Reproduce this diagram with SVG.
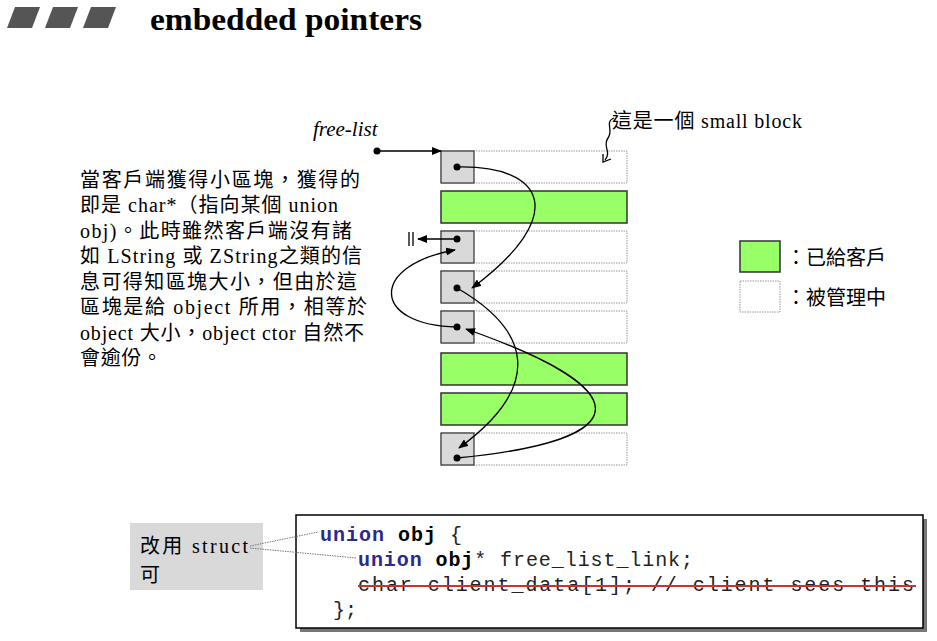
<svg xmlns="http://www.w3.org/2000/svg" width="937" height="641" viewBox="0 0 937 641">
<style>
.t{font-family:"Liberation Serif","Noto Sans CJK TC",serif;font-size:20px;fill:#000}
.m{font-family:"Liberation Mono",monospace;font-size:20px;fill:#222}
.kw{fill:#2a2a8c;font-weight:bold}
.b{font-weight:bold;fill:#000}
.g{fill:#99ff66;stroke:#333;stroke-width:1.5}
.w{fill:#fff;stroke:#999;stroke-width:1;stroke-dasharray:1.5 1}
.h{fill:#d9d9d9;stroke:#333;stroke-width:1.2}
.ln{fill:none;stroke:#000;stroke-width:1.3}
</style>
<defs>
<marker id="ah" markerWidth="10" markerHeight="8" refX="9" refY="4" orient="auto" markerUnits="userSpaceOnUse"><path d="M0,0 L10,4 L0,8 Z" fill="#000"/></marker>
</defs>
<rect width="937" height="641" fill="#fff"/>
<g id="title">
<polygon points="15,7 40,7 32,28 7,28" fill="#555"/>
<polygon points="53,7 78,7 70,28 45,28" fill="#555"/>
<polygon points="91,7 116,7 108,28 83,28" fill="#555"/>
<text x="150" y="30" font-family="Liberation Serif,serif" font-size="31" font-weight="bold" textLength="272" lengthAdjust="spacingAndGlyphs">embedded pointers</text>
</g>
<g id="desc">
<text class="t" x="80" y="187" textLength="280">當客戶端獲得小區塊，獲得的</text>
<text class="t" x="80" y="212" textLength="258">即是 char*（指向某個 union</text>
<text class="t" x="80" y="238" textLength="272">obj)。此時雖然客戶端沒有諸</text>
<text class="t" x="80" y="263" textLength="282">如 LString 或 ZString之類的信</text>
<text class="t" x="80" y="289" textLength="277">息可得知區塊大小，但由於這</text>
<text class="t" x="80" y="314" textLength="287">區塊是給 object 所用，相等於</text>
<text class="t" x="80" y="340" textLength="284">object 大小，object ctor 自然不</text>
<text class="t" x="80" y="365" textLength="82">會逾份。</text>
</g>
<g id="blocks">
<rect class="w" x="441" y="151" width="186" height="32"/>
<rect class="g" x="441" y="191" width="186" height="32"/>
<rect class="w" x="441" y="231" width="186" height="32"/>
<rect class="w" x="441" y="271" width="186" height="32"/>
<rect class="w" x="441" y="311" width="186" height="32"/>
<rect class="g" x="441" y="353" width="186" height="32"/>
<rect class="g" x="441" y="393" width="186" height="32"/>
<rect class="w" x="441" y="433" width="186" height="32"/>
<rect class="h" x="441" y="151" width="33" height="32"/>
<rect class="h" x="441" y="231" width="33" height="32"/>
<rect class="h" x="441" y="271" width="33" height="32"/>
<rect class="h" x="441" y="311" width="33" height="32"/>
<rect class="h" x="441" y="433" width="33" height="32"/>
<circle cx="457" cy="167" r="3.5"/>
<circle cx="457" cy="239" r="3.5"/>
<circle cx="457" cy="288" r="3.5"/>
<circle cx="457" cy="327" r="3.5"/>
<circle cx="457" cy="458" r="3.5"/>
</g>
<g id="freelist">
<text x="313" y="136" font-family="Liberation Serif,serif" font-size="21" font-style="italic">free-list</text>
<circle cx="377" cy="151" r="3.5"/>
</g>
<g id="connectors">
<path class="ln" d="M377,151 L441,151" marker-end="url(#ah)"/>
<path class="ln" d="M457,167 C545,165 570,215 472,288" marker-end="url(#ah)"/>
<path class="ln" d="M457,288 C530,330 545,385 459,448" marker-end="url(#ah)"/>
<path class="ln" d="M457,458 C640,440 640,390 466,329" marker-end="url(#ah)"/>
<path class="ln" d="M457,327 C370,325 370,265 455,250" marker-end="url(#ah)"/>
<path class="ln" d="M457,239 L418,239" marker-end="url(#ah)"/>
<path class="ln" d="M409,232 V246 M413,232 V246"/>
<path class="ln" d="M614,118 C604,122 614,130 608,138 C602,146 612,152 605,160 M603,154 L603,162 L611,159" stroke-width="1"/>
</g>
<g id="smallblock">
<text class="t" x="612" y="128" textLength="190">這是一個 small block</text>
</g>
<g id="legend">
<rect class="g" x="740" y="241" width="40" height="31"/>
<rect class="w" x="740" y="281" width="40" height="31"/>
<text class="t" x="786" y="265" font-size="21">：已給客戶</text>
<text class="t" x="786" y="305" font-size="21">：被管理中</text>
</g>
<g id="code">
<rect x="300" y="519" width="627" height="113" fill="#777"/>
<rect x="296" y="515" width="627" height="113" fill="#fff" stroke="#000" stroke-width="1.5"/>
<text class="m" x="320" y="541" textLength="142"><tspan class="kw">union</tspan> <tspan class="b">obj</tspan> {</text>
<text class="m" x="358" y="566" textLength="335"><tspan class="kw">union</tspan> <tspan class="b">obj</tspan>* free_list_link;</text>
<text class="m" x="358" y="591" textLength="556">char client_data[1];    // client sees this</text>
<line x1="358" y1="586" x2="916" y2="586" stroke="#c0392b" stroke-width="2"/>
<text class="m" x="333" y="616">};</text>
</g>
<g id="note">
<rect x="130" y="523" width="133" height="67" fill="#d9d9d9"/>
<text class="t" x="140" y="553" font-size="22" textLength="108">改用 struct</text>
<text class="t" x="140" y="582" font-size="22">可</text>
<path d="M250,546 L318,532 M250,548 L356,558" stroke="#777" stroke-width="1" stroke-dasharray="1.5 1" fill="none"/>
</g>
</svg>
